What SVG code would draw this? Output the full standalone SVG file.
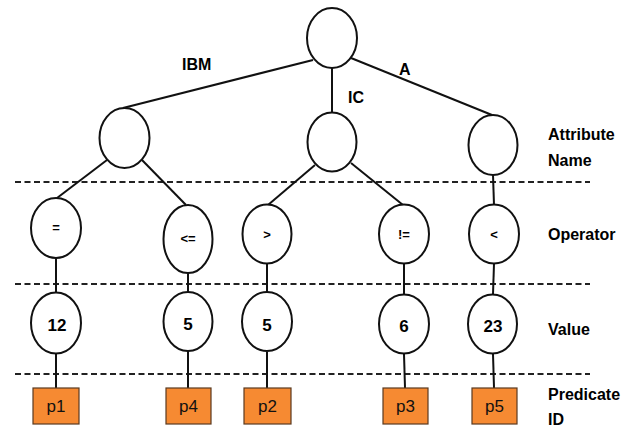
<svg xmlns="http://www.w3.org/2000/svg" width="632" height="428" viewBox="0 0 632 428">
<style>
.n{fill:#fff;stroke:#111;stroke-width:2}
.e{stroke:#111;stroke-width:2;fill:none}
.d{stroke:#222;stroke-width:2.2;stroke-dasharray:6 3.5;fill:none}
.p{fill:#F68A32;stroke:#5a3a20;stroke-width:1.2}
.b{font-family:"Liberation Sans",Arial,sans-serif;font-weight:bold;fill:#000}
.op{font-size:13px;text-anchor:middle}
.v{font-size:17px;text-anchor:middle}
.lb{font-size:16px}
.pt{font-family:"Liberation Sans",Arial,sans-serif;font-size:17px;text-anchor:middle;fill:#111}
</style>
<rect width="632" height="428" fill="#fff"/>
<g id="levels">
<line class="d" x1="15" y1="182" x2="590" y2="182"/>
<line class="d" x1="15" y1="284" x2="590" y2="284"/>
<line class="d" x1="15" y1="374" x2="590" y2="374"/>
</g>
<g id="connectors">
<line class="e" x1="313" y1="60" x2="123" y2="108"/>
<line class="e" x1="332" y1="68" x2="332" y2="113"/>
<line class="e" x1="351" y1="58" x2="492" y2="115"/>
<line class="e" x1="107" y1="160" x2="57" y2="198"/>
<line class="e" x1="142" y1="160" x2="186" y2="205"/>
<line class="e" x1="315" y1="165" x2="268" y2="205"/>
<line class="e" x1="351" y1="163" x2="403" y2="205"/>
<line class="e" x1="493" y1="175" x2="494" y2="205"/>
<line class="e" x1="56" y1="258" x2="56" y2="293"/>
<line class="e" x1="188" y1="273" x2="188" y2="292"/>
<line class="e" x1="267" y1="264" x2="267" y2="292"/>
<line class="e" x1="404" y1="264" x2="404" y2="294"/>
<line class="e" x1="494" y1="264" x2="493" y2="294"/>
<line class="e" x1="56" y1="353" x2="56" y2="388"/>
<line class="e" x1="188" y1="351" x2="188" y2="388"/>
<line class="e" x1="267" y1="352" x2="267" y2="388"/>
<line class="e" x1="404" y1="354" x2="405" y2="388"/>
<line class="e" x1="493" y1="354" x2="494" y2="388"/>
</g>
<g id="edge-labels" class="b lb">
<text x="182" y="70">IBM</text>
<text x="399" y="75">A</text>
<text x="348" y="103">IC</text>
</g>
<g id="root"><ellipse class="n" cx="332" cy="38" rx="25" ry="30"/></g>
<g id="attr-ibm"><ellipse class="n" cx="124.5" cy="138" rx="25" ry="30"/></g>
<g id="attr-ic"><ellipse class="n" cx="332" cy="142" rx="24.5" ry="29.5"/></g>
<g id="attr-a"><ellipse class="n" cx="493" cy="145" rx="24.5" ry="30"/></g>
<g id="op-eq"><ellipse class="n" cx="56" cy="228" rx="25" ry="30"/><text class="b op" x="56" y="232">=</text></g>
<g id="op-le"><ellipse class="n" cx="188" cy="239" rx="24.5" ry="34"/><text class="b op" x="188" y="243">&lt;=</text></g>
<g id="op-gt"><ellipse class="n" cx="267" cy="234" rx="24.5" ry="29.5"/><text class="b op" x="267" y="239">&gt;</text></g>
<g id="op-ne"><ellipse class="n" cx="404" cy="234" rx="25" ry="29.5"/><text class="b op" x="404" y="239">!=</text></g>
<g id="op-lt"><ellipse class="n" cx="494" cy="234" rx="25" ry="29.5"/><text class="b op" x="494" y="239">&lt;</text></g>
<g id="val-12"><ellipse class="n" cx="56" cy="323" rx="25" ry="30.5"/><text class="b v" x="57" y="331">12</text></g>
<g id="val-5a"><ellipse class="n" cx="188" cy="321.5" rx="24.5" ry="29.5"/><text class="b v" x="188" y="330">5</text></g>
<g id="val-5b"><ellipse class="n" cx="267" cy="321.5" rx="25" ry="29.5"/><text class="b v" x="267" y="331">5</text></g>
<g id="val-6"><ellipse class="n" cx="404" cy="324" rx="25" ry="29.5"/><text class="b v" x="404" y="332">6</text></g>
<g id="val-23"><ellipse class="n" cx="492.5" cy="324" rx="24.5" ry="29.5"/><text class="b v" x="493" y="332">23</text></g>
<g id="p1"><rect class="p" x="33" y="388" width="46" height="36"/><text class="pt" x="56" y="412">p1</text></g>
<g id="p4"><rect class="p" x="166" y="388" width="45" height="36"/><text class="pt" x="188.5" y="412">p4</text></g>
<g id="p2"><rect class="p" x="244" y="388" width="47" height="36"/><text class="pt" x="267.5" y="412">p2</text></g>
<g id="p3"><rect class="p" x="383" y="388" width="45" height="36"/><text class="pt" x="405.5" y="412">p3</text></g>
<g id="p5"><rect class="p" x="472" y="388" width="45" height="36"/><text class="pt" x="494.5" y="412">p5</text></g>
<g id="row-labels" class="b lb">
<text x="548" y="140">Attribute</text>
<text x="548" y="166">Name</text>
<text x="548" y="240">Operator</text>
<text x="548" y="335">Value</text>
<text x="548" y="400">Predicate</text>
<text x="548" y="425">ID</text>
</g>
</svg>
